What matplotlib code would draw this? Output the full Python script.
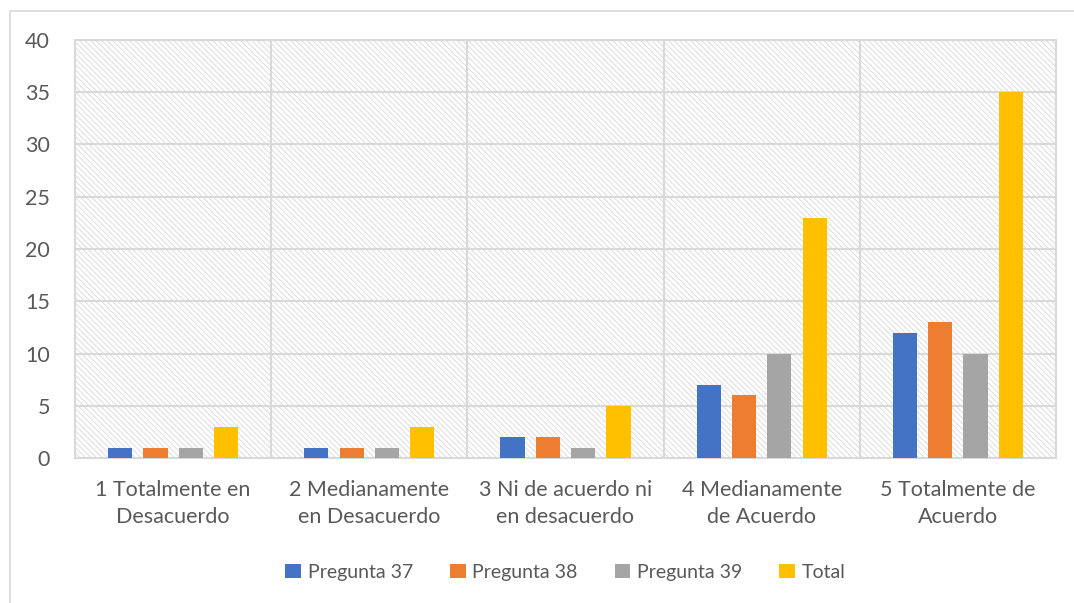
import matplotlib
matplotlib.use('Agg')
import matplotlib.pyplot as plt
from matplotlib.patches import Rectangle
import numpy as np

plt.rcParams['font.family'] = ['Lato', 'DejaVu Sans']
plt.rcParams['hatch.linewidth'] = 0.7

categories = ['1 Totalmente en\nDesacuerdo', '2 Medianamente\nen Desacuerdo',
              '3 Ni de acuerdo ni\nen desacuerdo', '4 Medianamente\nde Acuerdo',
              '5 Totalmente de\nAcuerdo']
series_names = ['Pregunta 37', 'Pregunta 38', 'Pregunta 39', 'Total']
pregunta_37 = [1, 1, 2, 7, 12]
pregunta_38 = [1, 1, 2, 6, 13]
pregunta_39 = [1, 1, 1, 10, 10]
total = [3, 3, 5, 23, 35]
colors = ['#4472C4', '#ED7D31', '#A5A5A5', '#FFC000']

grid_col = '#D9D9D9'
text_col = '#595959'

fig = plt.figure(figsize=(10.74, 6.03), dpi=100)
ax = fig.add_axes([75/1074, 1 - 458/603, (1056-75)/1074, (458-40)/603])

# outer chart frame (only left and top visible)
fig.add_artist(Rectangle((10/1074, -0.1), 1.2, 1 - 11/603 + 0.1, transform=fig.transFigure,
                         facecolor='none', edgecolor=grid_col, lw=1.2))

# hatched plot area
ax.add_patch(Rectangle((0, 0), 1, 1, transform=ax.transAxes, facecolor='white',
                       edgecolor='#DCDCDC', hatch='\\\\\\\\\\\\', lw=0, zorder=0))

x = np.arange(len(categories))
width = 0.123
step = 0.18
all_series = [pregunta_37, pregunta_38, pregunta_39, total]
for i, (name, vals) in enumerate(zip(series_names, all_series)):
    ax.bar(x + (i - 1.5) * step, vals, width, color=colors[i], label=name, zorder=3)

ax.set_xlim(-0.5, len(categories) - 0.5)
ax.set_ylim(0, 40)
ax.set_yticks(range(0, 41, 5))
ax.set_xticks(x)
ax.set_xticklabels(categories, fontsize=15.5, color=text_col, linespacing=1.42)
ax.tick_params(axis='y', labelsize=15.5, labelcolor=text_col, length=0, pad=18)
ax.tick_params(axis='x', length=0, pad=16)

for y in range(5, 41, 5):
    ax.axhline(y, color=grid_col, lw=1.5, zorder=1)
for b in np.arange(0.5, len(categories) - 0.5, 1):
    ax.axvline(b, color=grid_col, lw=1.5, zorder=1)
for s in ax.spines.values():
    s.set_color(grid_col)
    s.set_linewidth(1.5)

ax.legend(loc='center', bbox_to_anchor=(0.5, -0.273), ncol=4, frameon=False,
          fontsize=14, labelcolor=text_col, handlelength=0.8, handleheight=0.8,
          handletextpad=0.35, columnspacing=1.9)

fig.savefig('out.png', dpi=100)
